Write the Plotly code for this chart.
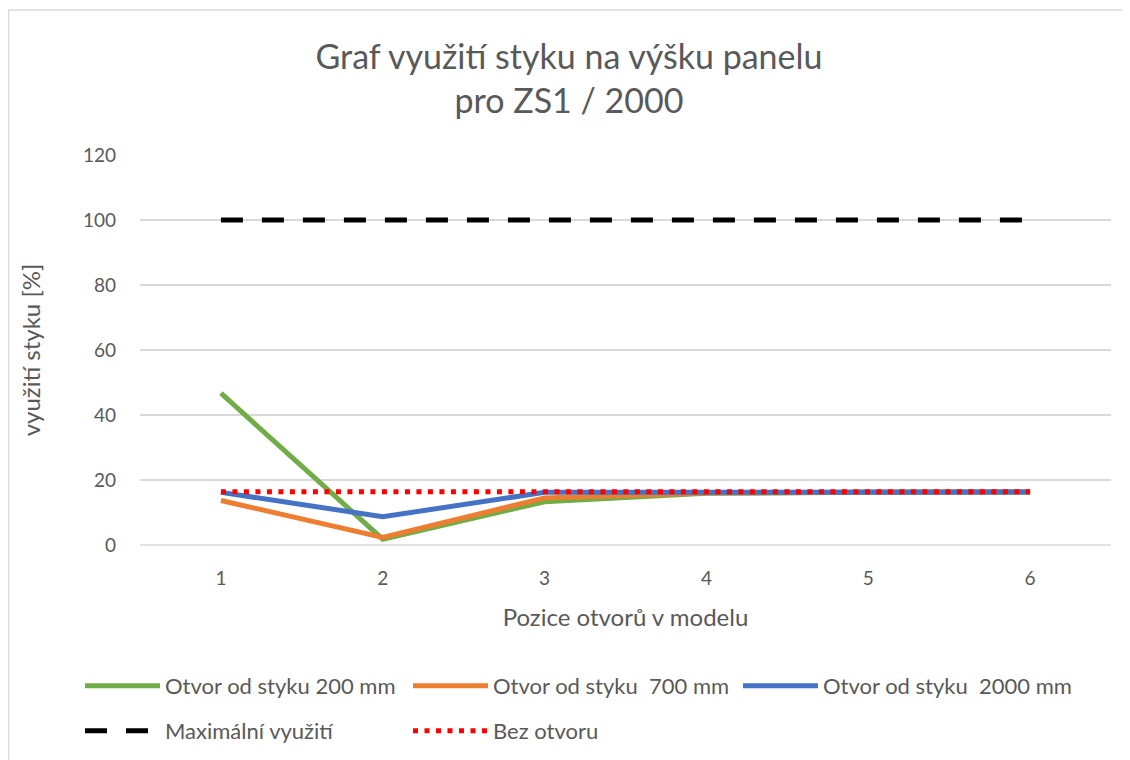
import plotly.graph_objects as go

categories = [1, 2, 3, 4, 5, 6]
otvor_200 = [46.7, 1.8, 13.3, 15.9, 16.2, 16.3]
otvor_700 = [13.7, 2.3, 14.5, 16.0, 16.2, 16.3]
otvor_2000 = [16.2, 8.7, 16.2, 16.3, 16.3, 16.3]
max_vyuziti = [100, 100, 100, 100, 100, 100]
bez_otvoru = [16.4, 16.4, 16.4, 16.4, 16.4, 16.4]
names = ["Otvor od styku 200 mm", "Otvor od styku  700 mm", "Otvor od styku  2000 mm",
         "Maximální využití", "Bez otvoru"]
y_ticks = [0, 20, 40, 60, 80, 100, 120]

FONT = "Lato"
GREY = "#595959"
OFF = 8  # page body margin
W, H = 1130 - OFF, 760 - OFF
L, T = 140 - OFF, 155 - OFF
R = W - (1111 - OFF)
B = H - (545 - OFF)
pw, ph = W - L - R, H - T - B


def px_x(p):
    return (p - OFF - L) / pw


def px_y(p):
    return (H - B - (p - OFF)) / ph


fig = go.Figure()
fig.add_trace(go.Scatter(x=categories, y=otvor_200, name=names[0], mode="lines",
                         line=dict(color="#70AD47", width=5), legend="legend"))
fig.add_trace(go.Scatter(x=categories, y=otvor_700, name=names[1], mode="lines",
                         line=dict(color="#ED7D31", width=5), legend="legend2"))
fig.add_trace(go.Scatter(x=categories, y=otvor_2000, name=names[2], mode="lines",
                         line=dict(color="#4472C4", width=5), legend="legend3"))
fig.add_trace(go.Scatter(x=categories, y=max_vyuziti, name=names[3], mode="lines",
                         line=dict(color="#000000", width=5, dash="22px,19px"),
                         legend="legend4"))
fig.add_trace(go.Scatter(x=categories, y=bez_otvoru, name=names[4], mode="lines",
                         line=dict(color="#FF0000", width=5, dash="5px,6.5px"),
                         legend="legend5"))

fig.add_shape(type="rect", xref="paper", yref="paper",
              x0=px_x(OFF + 0.5), x1=px_x(1160), y0=px_y(10), y1=px_y(790),
              line=dict(color="#D9D9D9", width=1.5), layer="below")
fig.add_shape(type="line", xref="paper", yref="paper", x0=0, x1=1, y0=0, y1=0,
              line=dict(color="#D9D9D9", width=1.5), layer="below")

legend_common = dict(orientation="h", xanchor="left", yanchor="middle",
                     font=dict(family=FONT, size=22, color=GREY),
                     itemwidth=75, tracegroupgap=0, bgcolor="rgba(0,0,0,0)")

fig.update_layout(
    width=W, height=H,
    margin=dict(l=L, r=R, t=T, b=B, autoexpand=False),
    paper_bgcolor="white", plot_bgcolor="white",
    font=dict(family=FONT, color=GREY, size=18),
    title=dict(text="Graf využití styku na výšku panelu<br>pro ZS1 / 2000",
               x=0.5, xanchor="center", y=1 - (69 - OFF) / H, yanchor="middle",
               font=dict(family=FONT, size=34, color=GREY)),
    xaxis=dict(range=[0.5, 6.5], tickvals=categories, showgrid=False, zeroline=False,
               showline=False, ticks="", ticklabelstandoff=20,
               tickfont=dict(size=19, color=GREY),
               title=dict(text="Pozice otvorů v modelu", font=dict(size=24, color=GREY),
                          standoff=21)),
    yaxis=dict(range=[0, 120], tickvals=y_ticks, showgrid=True, gridcolor="#D9D9D9",
               gridwidth=1.5, zeroline=False, showline=False, ticks="",
               ticklabelstandoff=23,
               tickfont=dict(size=19, color=GREY),
               title=dict(text="využití styku [%]", font=dict(size=24, color=GREY),
                          standoff=35)),
    legend=dict(x=px_x(80), y=px_y(686), **legend_common),
    legend2=dict(x=px_x(408), y=px_y(686), **legend_common),
    legend3=dict(x=px_x(738), y=px_y(686), **legend_common),
    legend4=dict(x=px_x(80), y=px_y(731), **legend_common),
    legend5=dict(x=px_x(408), y=px_y(731), **legend_common),
    showlegend=True,
)

fig.write_html("out.html")
